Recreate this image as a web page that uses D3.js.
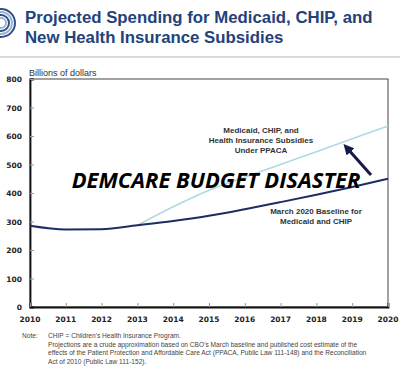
<!DOCTYPE html>
<html>
<head>
<meta charset="utf-8">
<script src="https://cdn.jsdelivr.net/npm/d3@7"></script>
<style>
  body { margin: 0; background: #fff; }
  svg { display: block; }
</style>
</head>
<body>
<svg width="400" height="371"></svg>
<script>
// chart data
const years = [2010, 2011, 2012, 2013, 2014, 2015, 2016, 2017, 2018, 2019, 2020];
const baseline = [285, 272, 273, 287, 302, 320, 343, 368, 394, 421, 450];
const ppacaYears = [2013, 2014, 2015, 2016, 2017, 2018, 2019, 2020];
const ppaca = [287, 352, 410, 455, 500, 545, 590, 635];
const yTicks = [0, 100, 200, 300, 400, 500, 600, 700, 800];
const noteLines = [
  "CHIP = Children's Health Insurance Program.",
  "Projections are a crude approximation based on CBO's March baseline and published cost estimate of the",
  "effects of the Patient Protection and Affordable Care Act (PPACA, Public Law 111-148) and the Reconciliation",
  "Act of 2010 (Public Law 111-152)."
];

const svg = d3.select("svg");

// header
const logo = svg.append("g");
[14, 11, 8, 5].forEach((r, i) => {
  logo.append("circle")
    .attr("cx", 1).attr("cy", 23).attr("r", r)
    .attr("fill", "none")
    .attr("stroke", i % 2 ? "#9fb3d1" : "#2c4f86")
    .attr("stroke-width", 2);
});

const title = svg.append("text")
  .attr("font-family", "Liberation Sans, Arial, sans-serif")
  .attr("font-weight", "bold")
  .attr("font-size", 16.8)
  .attr("fill", "#24427a");
title.append("tspan").attr("x", 25).attr("y", 23).text("Projected Spending for Medicaid, CHIP, and");
title.append("tspan").attr("x", 25).attr("y", 43).text("New Health Insurance Subsidies");

svg.append("line")
  .attr("x1", 0).attr("x2", 400).attr("y1", 57).attr("y2", 57)
  .attr("stroke", "#d9c9d3").attr("stroke-width", 1.5);

// plot area
const plotL = 30, plotR = 388, plotT = 79, plotB = 307;

const x = d3.scaleLinear().domain([2010, 2020]).range([plotL, plotR]);
const y = d3.scaleLinear().domain([0, 800]).range([plotB, plotT]);

svg.append("text")
  .attr("x", 29).attr("y", 76)
  .attr("font-family", "Liberation Sans, Arial, sans-serif")
  .attr("font-size", 9)
  .attr("fill", "#333")
  .text("Billions of dollars");

// box
svg.append("rect")
  .attr("x", plotL).attr("y", plotT)
  .attr("width", plotR - plotL).attr("height", plotB - plotT)
  .attr("fill", "none").attr("stroke", "#444").attr("stroke-width", 1);

const yAxis = svg.append("g")
  .attr("transform", `translate(${plotL},0)`)
  .call(d3.axisRight(y).tickValues(yTicks).tickSize(4).tickFormat(""));
yAxis.select(".domain").attr("stroke", "#111").attr("stroke-width", 1.8);
yAxis.selectAll(".tick line").attr("stroke", "#999");

svg.append("g").selectAll("text")
  .data(yTicks)
  .join("text")
  .attr("x", 22).attr("y", d => y(d) + 3)
  .attr("text-anchor", "end")
  .attr("font-family", "DejaVu Sans, sans-serif")
  .attr("font-weight", "bold")
  .attr("font-size", 7.5)
  .attr("fill", "#222")
  .text(d => d);

const xAxis = svg.append("g")
  .attr("transform", `translate(0,${plotB})`)
  .call(d3.axisTop(x).tickValues(years).tickSize(4).tickFormat(""));
xAxis.select(".domain").attr("stroke", "#111").attr("stroke-width", 1.8);
xAxis.selectAll(".tick line").attr("stroke", "#999");

svg.append("g").selectAll("text")
  .data(years)
  .join("text")
  .attr("x", d => x(d)).attr("y", 322)
  .attr("text-anchor", "middle")
  .attr("font-family", "DejaVu Sans, sans-serif")
  .attr("font-weight", "bold")
  .attr("font-size", 7.5)
  .attr("fill", "#222")
  .text(d => d);

// lines
const line = d3.line().x(d => x(d[0])).y(d => y(d[1])).curve(d3.curveMonotoneX);

svg.append("path")
  .datum(ppacaYears.map((yr, i) => [yr, ppaca[i]]))
  .attr("d", line)
  .attr("fill", "none")
  .attr("stroke", "#b0d8e6")
  .attr("stroke-width", 1.6);

svg.append("path")
  .datum(years.map((yr, i) => [yr, baseline[i]]))
  .attr("d", line)
  .attr("fill", "none")
  .attr("stroke", "#1c2d63")
  .attr("stroke-width", 2);

// annotations
const annoFont = "Liberation Sans Narrow, Liberation Sans, Arial, sans-serif";
const a1 = svg.append("text")
  .attr("text-anchor", "middle")
  .attr("font-family", annoFont)
  .attr("font-weight", "bold")
  .attr("font-size", 8)
  .attr("fill", "#333");
["Medicaid, CHIP, and", "Health Insurance Subsidies", "Under PPACA"].forEach((t, i) => {
  a1.append("tspan").attr("x", 261).attr("y", 133 + i * 10).text(t);
});

const a2 = svg.append("text")
  .attr("text-anchor", "middle")
  .attr("font-family", annoFont)
  .attr("font-weight", "bold")
  .attr("font-size", 8)
  .attr("fill", "#333");
["March 2020 Baseline for", "Medicaid and CHIP"].forEach((t, i) => {
  a2.append("tspan").attr("x", 316).attr("y", 214 + i * 10).text(t);
});

// arrow
svg.append("defs").append("marker")
  .attr("id", "head")
  .attr("viewBox", "0 0 10 10")
  .attr("refX", 5).attr("refY", 5)
  .attr("markerWidth", 3.5).attr("markerHeight", 3.5)
  .attr("orient", "auto")
  .append("path")
  .attr("d", "M0,0L10,5L0,10z")
  .attr("fill", "#141a4a");

svg.append("line")
  .attr("x1", 371).attr("y1", 175)
  .attr("x2", 347).attr("y2", 148)
  .attr("stroke", "#141a4a")
  .attr("stroke-width", 3)
  .attr("marker-end", "url(#head)");

// overlay caption
svg.append("text")
  .attr("x", 216).attr("y", 188)
  .attr("text-anchor", "middle")
  .attr("font-family", "Open Sans, sans-serif")
  .attr("font-weight", "bold")
  .attr("font-style", "italic")
  .attr("font-size", 22)
  .attr("fill", "#000")
  .text("DEMCARE BUDGET DISASTER");

// note
const noteFont = "Liberation Sans, Arial, sans-serif";
svg.append("text")
  .attr("x", 22).attr("y", 338)
  .attr("font-family", noteFont)
  .attr("font-size", 6.6)
  .attr("fill", "#444")
  .text("Note:");
svg.append("g").selectAll("text")
  .data(noteLines)
  .join("text")
  .attr("x", 48).attr("y", (d, i) => 338 + i * 8.7)
  .attr("font-family", noteFont)
  .attr("font-size", 6.6)
  .attr("fill", "#444")
  .text(d => d);
</script>
</body>
</html>
